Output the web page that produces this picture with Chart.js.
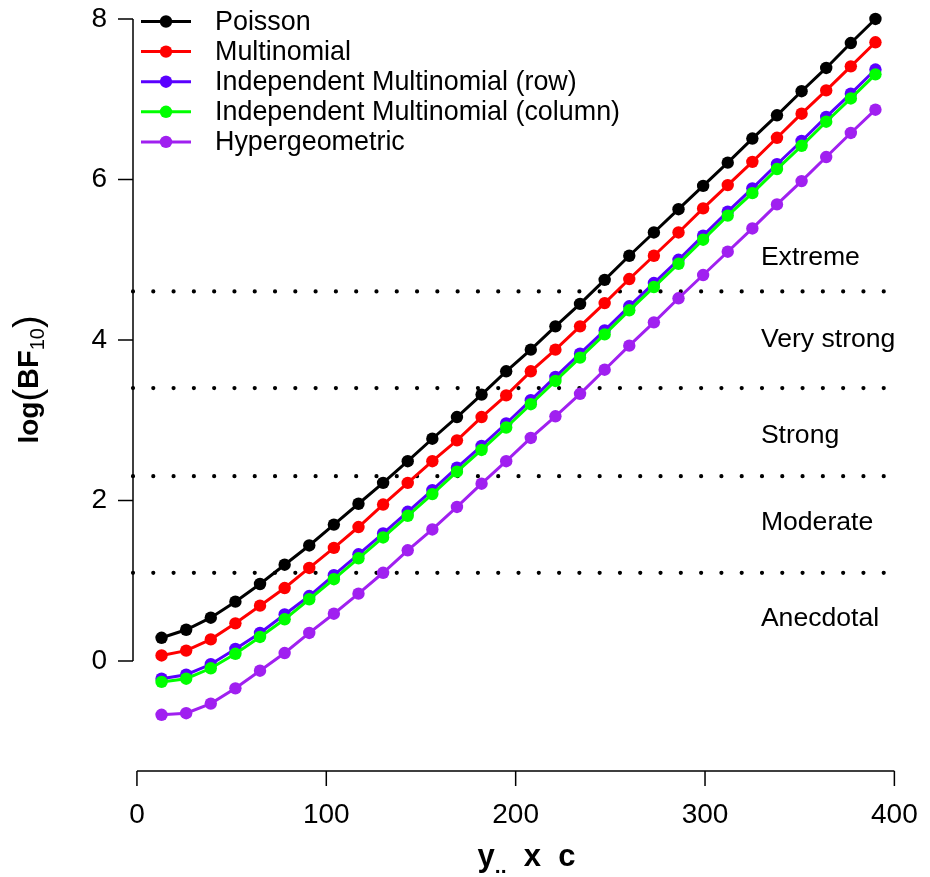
<!DOCTYPE html>
<html>
<head>
<meta charset="utf-8">
<script src="https://cdn.jsdelivr.net/npm/chart.js@4.4.1/dist/chart.umd.min.js"></script>
<style>
  html, body { margin: 0; padding: 0; background: #fff; }
  #wrap { width: 930px; height: 877px; }
</style>
</head>
<body>
<div id="wrap"><canvas id="chart"></canvas></div>
<script>
// y.. x c
const xValues = [13, 26, 39, 52, 65, 78, 91, 104, 117, 130, 143, 156, 169, 182, 195,
                 208, 221, 234, 247, 260, 273, 286, 299, 312, 325, 338, 351, 364, 377, 390];

// log(BF10) per sampling scheme
const poisson = [0.29, 0.39, 0.54, 0.74, 0.96, 1.20, 1.44, 1.70, 1.96, 2.22, 2.49, 2.77, 3.04, 3.32, 3.61,
                 3.88, 4.17, 4.45, 4.75, 5.05, 5.34, 5.63, 5.92, 6.21, 6.51, 6.80, 7.10, 7.39, 7.70, 8.00];
const multinomial = [0.07, 0.13, 0.27, 0.47, 0.69, 0.91, 1.16, 1.41, 1.67, 1.95, 2.22, 2.49, 2.75, 3.04, 3.31,
                     3.61, 3.88, 4.17, 4.46, 4.76, 5.05, 5.34, 5.64, 5.93, 6.22, 6.52, 6.82, 7.11, 7.41, 7.71];
const indepRow = [-0.22, -0.17, -0.04, 0.15, 0.35, 0.58, 0.81, 1.07, 1.33, 1.59, 1.86, 2.13, 2.41, 2.68, 2.96,
                  3.25, 3.54, 3.83, 4.12, 4.42, 4.71, 5.00, 5.30, 5.60, 5.89, 6.19, 6.48, 6.78, 7.07, 7.37];
const indepCol = [-0.26, -0.22, -0.09, 0.09, 0.30, 0.52, 0.77, 1.02, 1.28, 1.54, 1.81, 2.08, 2.36, 2.63, 2.91,
                  3.20, 3.49, 3.78, 4.07, 4.37, 4.66, 4.95, 5.25, 5.55, 5.83, 6.13, 6.42, 6.72, 7.01, 7.31];
const hypergeom = [-0.67, -0.65, -0.53, -0.34, -0.12, 0.10, 0.35, 0.59, 0.84, 1.10, 1.38, 1.64, 1.92, 2.21, 2.49,
                   2.78, 3.05, 3.33, 3.63, 3.93, 4.22, 4.52, 4.81, 5.10, 5.39, 5.69, 5.98, 6.28, 6.58, 6.87];

const seriesNames = ['Poisson', 'Multinomial', 'Independent Multinomial (row)',
                     'Independent Multinomial (column)', 'Hypergeometric'];

const xTicks = [0, 100, 200, 300, 400];
const yTicks = [0, 2, 4, 6, 8];

// evidence thresholds: log(3), log(10), log(30), log(100)
const thresholds = [1.099, 2.303, 3.401, 4.605];
const evidenceLabels = ['Anecdotal', 'Moderate', 'Strong', 'Very strong', 'Extreme'];
const evidenceLabelY = [0.53, 1.73, 2.81, 4.0, 5.03];
const evidenceLabelX = 329.5;

const FONT = '"Liberation Sans", Arial, Helvetica, sans-serif';
const colors = ['#000000', '#ff0000', '#5a00ff', '#00ff00', '#a020f0'];
const seriesData = [poisson, multinomial, indepRow, indepCol, hypergeom];

const rStyle = {
  id: 'rStyle',
  beforeDatasetsDraw(chart) {
    const { ctx, chartArea: a, scales: { x, y } } = chart;
    ctx.save();
    ctx.strokeStyle = '#000';
    ctx.lineWidth = 4.2;
    ctx.lineCap = 'round';
    ctx.setLineDash([0, 20.29]);
    thresholds.forEach(t => {
      const py = y.getPixelForValue(t);
      ctx.beginPath();
      ctx.moveTo(a.left, py);
      ctx.lineTo(a.right, py);
      ctx.stroke();
    });
    ctx.setLineDash([]);

    ctx.fillStyle = '#000';
    ctx.font = '26.6px ' + FONT;
    ctx.textAlign = 'left';
    ctx.textBaseline = 'middle';
    evidenceLabels.forEach((lab, i) => {
      ctx.fillText(lab, x.getPixelForValue(evidenceLabelX), y.getPixelForValue(evidenceLabelY[i]));
    });
    ctx.restore();
  },
  afterDraw(chart) {
    const { ctx, chartArea: a, scales: { x, y } } = chart;
    ctx.save();
    ctx.strokeStyle = '#000';
    ctx.lineWidth = 1.5;
    ctx.lineCap = 'butt';

    // y axis, R style: only spans the tick range
    ctx.beginPath();
    ctx.moveTo(a.left, y.getPixelForValue(yTicks[0]));
    ctx.lineTo(a.left, y.getPixelForValue(yTicks[yTicks.length - 1]));
    yTicks.forEach(v => {
      const py = y.getPixelForValue(v);
      ctx.moveTo(a.left - 15, py);
      ctx.lineTo(a.left, py);
    });
    ctx.stroke();

    // x axis
    ctx.beginPath();
    ctx.moveTo(x.getPixelForValue(xTicks[0]), a.bottom);
    ctx.lineTo(x.getPixelForValue(xTicks[xTicks.length - 1]), a.bottom);
    xTicks.forEach(v => {
      const px = x.getPixelForValue(v);
      ctx.moveTo(px, a.bottom);
      ctx.lineTo(px, a.bottom + 15);
    });
    ctx.stroke();

    // legend
    ctx.textAlign = 'left';
    ctx.textBaseline = 'middle';
    chart.data.datasets.forEach((ds, i) => {
      const ly = 21.5 + 30.1 * i;
      ctx.strokeStyle = ds.borderColor;
      ctx.lineWidth = 3;
      ctx.beginPath();
      ctx.moveTo(141, ly);
      ctx.lineTo(191, ly);
      ctx.stroke();
      ctx.fillStyle = ds.borderColor;
      ctx.beginPath();
      ctx.arc(166, ly, 6.2, 0, Math.PI * 2);
      ctx.fill();
      ctx.fillStyle = '#000';
      ctx.font = '26.9px ' + FONT;
      ctx.fillText(ds.label, 215, ly + 1);
    });

    // x title: y.. x c
    ctx.fillStyle = '#000';
    ctx.textBaseline = 'alphabetic';
    const xParts = [
      { t: 'y', f: 'bold 31px ' + FONT, dy: 0 },
      { t: '..', f: 'bold 21px ' + FONT, dy: 7 },
      { t: '  x  c', f: 'bold 31px ' + FONT, dy: 0 }
    ];
    drawParts(ctx, xParts, (a.left + a.right) / 2 + 8, 866);

    // y title: log(BF10)
    const yParts = [
      { t: 'log', f: 'bold 28px ' + FONT, dy: 0 },
      { t: '(', f: '38px ' + FONT, dy: 2 },
      { t: 'BF', f: 'bold 29px ' + FONT, dy: 0 },
      { t: '10', f: '20px ' + FONT, dy: 6 },
      { t: ')', f: '38px ' + FONT, dy: 2 }
    ];
    ctx.translate(38, (a.top + a.bottom) / 2 - 11);
    ctx.rotate(-Math.PI / 2);
    drawParts(ctx, yParts, 0, 0);
    ctx.restore();
  }
};

function drawParts(ctx, parts, cx, by) {
  let total = 0;
  parts.forEach(p => { ctx.font = p.f; p.w = ctx.measureText(p.t).width; total += p.w; });
  let px = cx - total / 2;
  ctx.textAlign = 'left';
  parts.forEach(p => {
    ctx.font = p.f;
    ctx.fillText(p.t, px, by + p.dy);
    px += p.w;
  });
}

new Chart(document.getElementById('chart'), {
  type: 'line',
  data: {
    datasets: seriesNames.map((name, i) => ({
      label: name,
      data: xValues.map((xv, j) => ({ x: xv, y: seriesData[i][j] })),
      borderColor: colors[i],
      backgroundColor: colors[i],
      pointBackgroundColor: colors[i],
      borderWidth: 3,
      pointRadius: 6.2,
      pointBorderWidth: 0,
      tension: 0,
      fill: false,
      order: seriesNames.length - i
    }))
  },
  options: {
    responsive: true,
    maintainAspectRatio: false,
    animation: false,
    layout: { padding: { left: 0, right: 26, top: 10, bottom: 0 } },
    plugins: { legend: { display: false }, tooltip: { enabled: false } },
    scales: {
      x: {
        type: 'linear',
        min: -2.08,
        max: 405.08,
        afterBuildTicks: s => { s.ticks = xTicks.map(v => ({ value: v })); },
        afterFit: s => { s.height = 106; s.paddingLeft = 0; s.paddingRight = 0; },
        grid: { display: false, drawTicks: false },
        border: { display: false },
        ticks: { padding: 27, color: '#000', font: { family: FONT, size: 28 }, maxRotation: 0, autoSkip: false }
      },
      y: {
        type: 'linear',
        min: -1.37,
        max: 8.112,
        afterBuildTicks: s => { s.ticks = yTicks.map(v => ({ value: v })); },
        afterFit: s => { s.width = 133; s.paddingTop = 0; s.paddingBottom = 0; },
        grid: { display: false, drawTicks: false },
        border: { display: false },
        ticks: { padding: 26, color: '#000', font: { family: FONT, size: 28 } }
      }
    }
  },
  plugins: [rStyle]
});
</script>
</body>
</html>
